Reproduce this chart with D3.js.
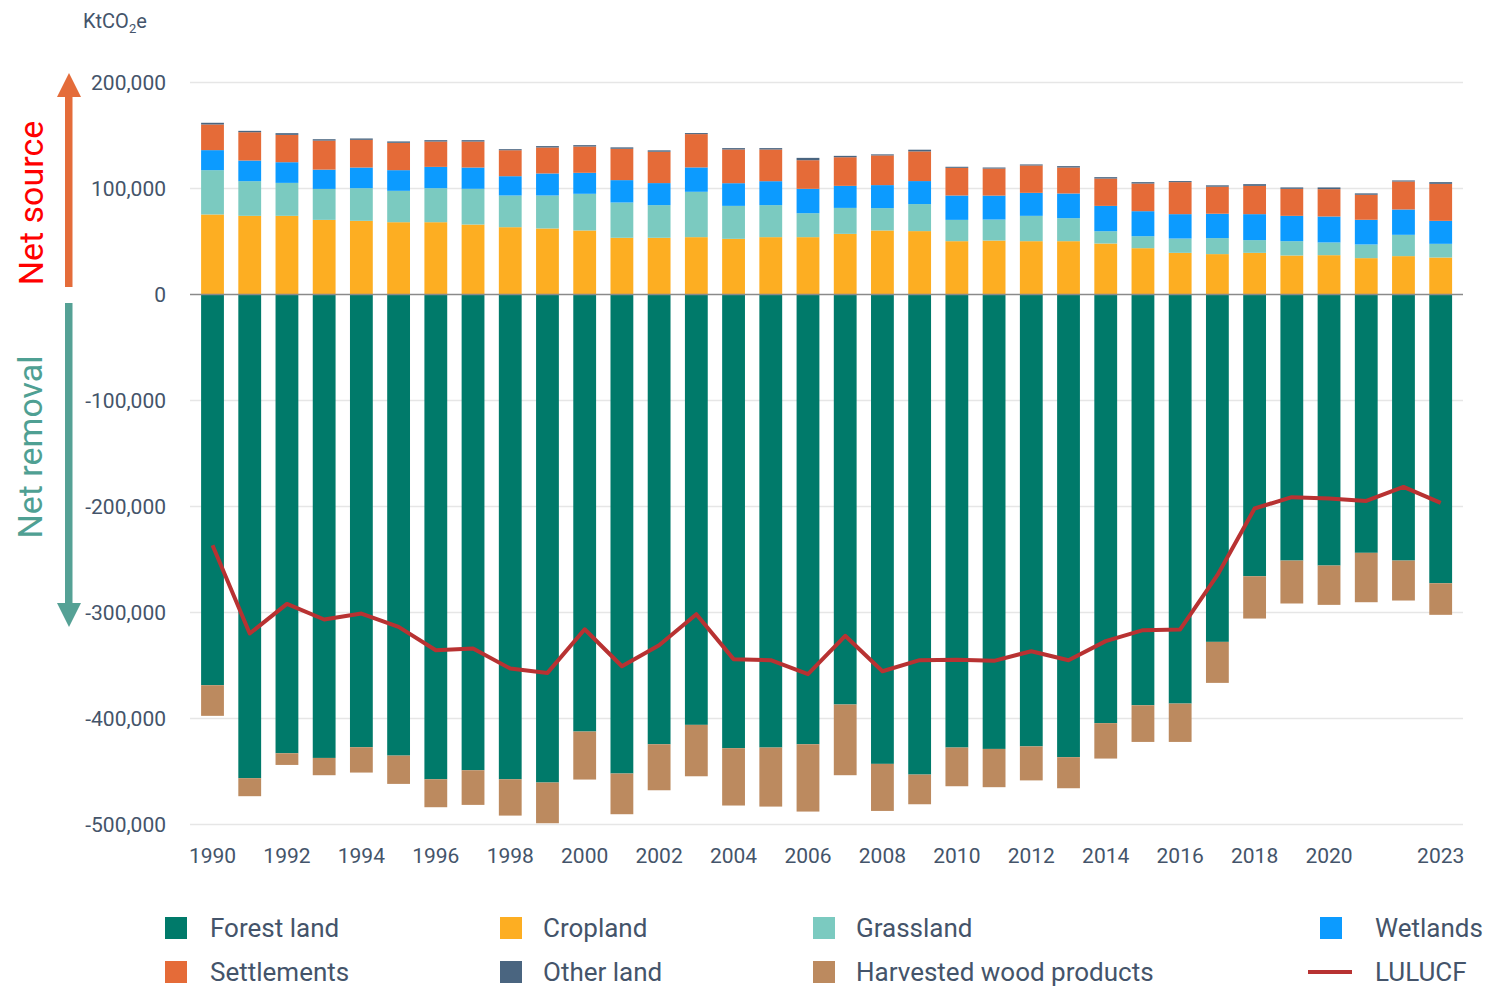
<!DOCTYPE html>
<html>
<head>
<meta charset="utf-8">
<script src="https://cdn.jsdelivr.net/npm/d3@7"></script>
<style>
  html, body { margin: 0; padding: 0; background: #fff; }
  svg { display: block; font-family: Roboto, "Noto Sans", sans-serif; }
</style>
</head>
<body>
<svg id="chart" width="1488" height="986"></svg>
<script>
const years = [1990,1991,1992,1993,1994,1995,1996,1997,1998,1999,2000,2001,2002,2003,2004,2005,2006,2007,2008,2009,2010,2011,2012,2013,2014,2015,2016,2017,2018,2019,2020,2021,2022,2023];

const cropland    = [75500,74200,74200,70400,69500,68200,68200,66000,63500,62300,60400,53500,53500,54100,52500,54100,54100,57200,60400,59800,50300,50900,50300,50300,48100,43700,39300,38100,39300,36800,37100,34300,36200,34900];
const grassland   = [41800,32700,31100,29200,30800,29600,32100,33700,29900,31100,34600,33300,30800,42800,31100,30200,22600,24500,21100,25500,20100,19800,23900,21700,11600,11300,13500,15100,12000,13500,12000,12900,20100,12900];
const wetlands    = [18900,19500,19500,18200,19500,19500,20100,20100,18200,20800,19800,21100,20800,23000,21400,22600,23000,20800,21700,21700,23000,22600,21700,23300,23900,23600,23000,23000,24500,23900,24500,23300,23900,21700];
const settlements = [24200,26700,25800,27400,26100,25800,23900,24500,24500,24500,24800,29600,29600,31400,31800,29900,27000,27000,28000,28000,26100,25500,25800,24500,25800,26100,30200,25500,26700,25500,25800,23600,26400,34900];
const otherLand   = [1600,1300,1600,1300,1300,1300,1300,1300,1000,1300,1300,1300,1300,1000,1300,1300,2200,1300,1000,1600,1000,1000,1000,1300,1300,1300,1000,1300,1600,1300,1600,1300,1000,1600];
const forestLand  = [-368600,-456300,-432800,-437200,-427100,-435000,-457300,-448800,-457300,-460400,-412300,-451900,-424300,-406000,-428000,-427400,-424300,-386800,-442800,-452900,-427400,-428700,-426300,-436500,-404400,-387500,-385900,-327700,-265800,-251000,-255700,-243700,-251000,-272400];
const harvestedWood = [-28900,-17000,-11000,-16300,-23900,-26700,-26400,-32700,-34300,-38400,-45300,-38400,-43400,-48500,-54100,-55700,-63500,-66700,-44400,-28000,-36500,-36100,-32100,-29300,-33400,-34600,-36200,-38700,-39900,-40500,-37100,-46600,-37700,-29800];
const lulucf      = [-236500,-319800,-291900,-306600,-301000,-313600,-335600,-334000,-352900,-357000,-315800,-350700,-330900,-301600,-344000,-345000,-358200,-322000,-355400,-345000,-344500,-345600,-336500,-345000,-327000,-316700,-316000,-264800,-201900,-191200,-192500,-194700,-181500,-196600];

const yTicks = [-500000,-400000,-300000,-200000,-100000,0,100000,200000];
const xTickLabels = [1990,1992,1994,1996,1998,2000,2002,2004,2006,2008,2010,2012,2014,2016,2018,2020,2023];

const positiveSeries = [
  {name: "Cropland",    values: cropland,    color: "#FDAE22"},
  {name: "Grassland",   values: grassland,   color: "#7BCAC0"},
  {name: "Wetlands",    values: wetlands,    color: "#0C9BFF"},
  {name: "Settlements", values: settlements, color: "#E56B38"},
  {name: "Other land",  values: otherLand,   color: "#4A6580"}
];
const negativeSeries = [
  {name: "Forest land", values: forestLand, color: "#007A6A"},
  {name: "Harvested wood products", values: harvestedWood, color: "#BC8A5F"}
];

const legendItems = [
  {name: "Forest land", color: "#007A6A", type: "rect", col: 0, row: 0},
  {name: "Cropland", color: "#FDAE22", type: "rect", col: 1, row: 0},
  {name: "Grassland", color: "#7BCAC0", type: "rect", col: 2, row: 0},
  {name: "Wetlands", color: "#0C9BFF", type: "rect", col: 3, row: 0},
  {name: "Settlements", color: "#E56B38", type: "rect", col: 0, row: 1},
  {name: "Other land", color: "#4A6580", type: "rect", col: 1, row: 1},
  {name: "Harvested wood products", color: "#BC8A5F", type: "rect", col: 2, row: 1},
  {name: "LULUCF", color: "#B83232", type: "line", col: 3, row: 1}
];

const textColor = "#44546A";
const svg = d3.select("#chart");

const x = d3.scaleBand().domain(years).range([193.9, 1459.3]).paddingInner(0.387).paddingOuter(0.1935);
const y = d3.scaleLinear().domain([-500000, 200000]).range([824.5, 82.5]);
const gridX0 = 190, gridX1 = 1463;

// gridlines
svg.append("g").selectAll("line").data(yTicks.filter(d => d !== 0)).join("line")
  .attr("x1", gridX0).attr("x2", gridX1)
  .attr("y1", d => y(d)).attr("y2", d => y(d))
  .attr("stroke", "#e6e6e6").attr("stroke-width", 1.3);

// y tick labels
svg.append("g").selectAll("text").data(yTicks).join("text")
  .attr("x", 166).attr("y", d => y(d)).attr("dy", "0.35em")
  .attr("text-anchor", "end").attr("fill", textColor)
  .style("font-size", "21px")
  .text(d => d3.format(",")(d).replace("−", "-"));

// stacked bars
const gBars = svg.append("g");
years.forEach((yr, i) => {
  let acc = 0;
  positiveSeries.forEach(s => {
    const v = s.values[i];
    gBars.append("rect")
      .attr("x", x(yr)).attr("width", x.bandwidth())
      .attr("y", y(acc + v)).attr("height", y(acc) - y(acc + v))
      .attr("fill", s.color);
    acc += v;
  });
  let neg = 0;
  negativeSeries.forEach(s => {
    const v = s.values[i];
    gBars.append("rect")
      .attr("x", x(yr)).attr("width", x.bandwidth())
      .attr("y", y(neg)).attr("height", y(neg + v) - y(neg))
      .attr("fill", s.color);
    neg += v;
  });
});

// zero line
svg.append("line").attr("x1", gridX0).attr("x2", gridX1)
  .attr("y1", y(0)).attr("y2", y(0)).attr("stroke", "#8a8a8a").attr("stroke-width", 1.5);

// LULUCF line
const line = d3.line().x((d, i) => x(years[i]) + x.bandwidth() / 2).y(d => y(d));
svg.append("path").datum(lulucf).attr("d", line)
  .attr("fill", "none").attr("stroke", "#B83232").attr("stroke-width", 4).attr("stroke-linejoin", "round");

// x labels
svg.append("g").selectAll("text").data(xTickLabels).join("text")
  .attr("x", d => x(d) + x.bandwidth() / 2).attr("y", 863)
  .attr("text-anchor", "middle").attr("fill", textColor)
  .style("font-size", "21px").text(d => d);

// unit label
const unit = svg.append("text").attr("x", 83).attr("y", 28).attr("fill", textColor).style("font-size", "20px");
unit.append("tspan").text("KtCO");
unit.append("tspan").attr("dy", 5).style("font-size", "13px").text("2");
unit.append("tspan").attr("dy", -5).text("e");

// arrows
svg.append("rect").attr("x", 65).attr("y", 96).attr("width", 7.5).attr("height", 191).attr("fill", "#E46C3A");
svg.append("path").attr("d", "M57,97 L81,97 L69,73 Z").attr("fill", "#E46C3A");
svg.append("rect").attr("x", 65).attr("y", 303).attr("width", 7.5).attr("height", 302).attr("fill", "#55A195");
svg.append("path").attr("d", "M57,603 L81,603 L69,627 Z").attr("fill", "#55A195");

svg.append("text").attr("transform", "translate(42.5,203) rotate(-90)")
  .attr("text-anchor", "middle").attr("fill", "#FF0000").style("font-size", "34px").text("Net source");
svg.append("text").attr("transform", "translate(42,447) rotate(-90)")
  .attr("text-anchor", "middle").attr("fill", "#4FA093").style("font-size", "34px").text("Net removal");

// legend
const colX = [165, 500, 813, 1320];
const textX = [210, 543, 856, 1375];
const rowY = [928, 972];
const lg = svg.append("g");
legendItems.forEach(it => {
  if (it.type === "rect") {
    lg.append("rect").attr("x", colX[it.col]).attr("y", rowY[it.row] - 11)
      .attr("width", 22).attr("height", 22).attr("fill", it.color);
  } else {
    lg.append("line").attr("x1", 1308).attr("x2", 1352)
      .attr("y1", rowY[it.row]).attr("y2", rowY[it.row])
      .attr("stroke", it.color).attr("stroke-width", 4);
  }
  lg.append("text").attr("x", textX[it.col]).attr("y", rowY[it.row]).attr("dy", "0.35em")
    .attr("fill", textColor).style("font-size", "26px").text(it.name);
});
</script>
</body>
</html>
